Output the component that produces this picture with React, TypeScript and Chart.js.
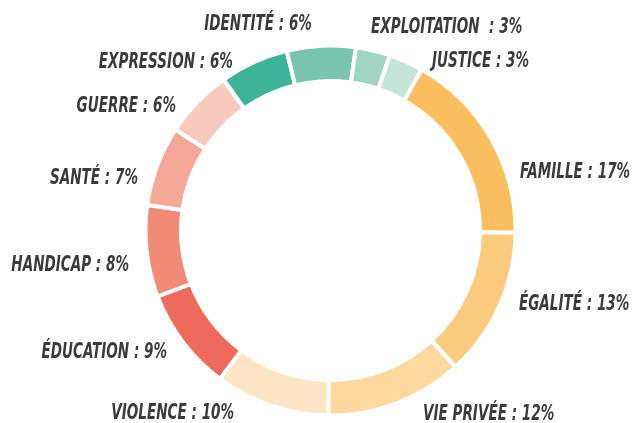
import React, { useEffect, useRef } from "react";
import { Chart, registerables } from "chart.js";

Chart.register(...registerables);

const categories = [
  "FAMILLE",
  "ÉGALITÉ",
  "VIE PRIVÉE",
  "VIOLENCE",
  "ÉDUCATION",
  "HANDICAP",
  "SANTÉ",
  "GUERRE",
  "EXPRESSION",
  "IDENTITÉ",
  "EXPLOITATION ",
  "JUSTICE",
];
const values = [17, 13, 12, 10, 9, 8, 7, 6, 6, 6, 3, 3];
const colors = [
  "#FBBE5E",
  "#FCCB7E",
  "#FDD9A0",
  "#FDE5C5",
  "#EE6A5A",
  "#F18B77",
  "#F4A897",
  "#F8C9BD",
  "#3DB497",
  "#7AC5AE",
  "#A1D5C3",
  "#C6E5DA",
];
// label placement: angular nudge from the slice mid-angle (deg) and gap beyond the ring (px)
const labelNudgeDeg = [12.2, -3.3, -6.1, 9.4, 0.9, -2.7, -4.7, -4.6, -5.3, -2.2, -2.15, 6.5];
const labelGap = [13.9, 16.6, 18.7, 19.7, 17.5, 19.1, 15.1, 14.7, 11.4, 24.3, 24.5, 14.3];

const FONT_SIZE = 22;
const X_SCALE = 0.685;

const labelPlugin = {
  id: "outerLabels",
  afterDatasetsDraw(chart: any) {
    const ctx = chart.ctx;
    const meta = chart.getDatasetMeta(0);
    ctx.save();
    ctx.font = `italic bold ${FONT_SIZE}px 'DejaVu Sans Condensed', 'DejaVu Sans', sans-serif`;
    ctx.fillStyle = "#3B3B3B";
    ctx.textBaseline = "alphabetic";
    meta.data.forEach((arc: any, i: number) => {
      const p = arc.getProps(["x", "y", "startAngle", "endAngle", "outerRadius"], true);
      const a = (p.startAngle + p.endAngle) / 2 + (labelNudgeDeg[i] * Math.PI) / 180;
      const d = p.outerRadius + labelGap[i];
      const px = p.x + d * Math.cos(a);
      const py = p.y + d * Math.sin(a);
      const text = `${categories[i]} : ${values[i]}%`;
      ctx.save();
      ctx.translate(px, py + FONT_SIZE * 0.729 / 2);
      ctx.scale(X_SCALE, 1);
      ctx.textAlign = Math.cos(a) >= 0 ? "left" : "right";
      ctx.fillText(text, 0, 0);
      ctx.restore();
    });
    ctx.restore();
  },
};

export default function App() {
  const ref = useRef<HTMLCanvasElement>(null);
  useEffect(() => {
    if (!ref.current) return;
    const chart = new Chart(ref.current, {
      type: "doughnut",
      data: {
        labels: categories,
        datasets: [
          {
            data: values,
            backgroundColor: colors,
            borderColor: "#FFFFFF",
            borderWidth: 4,
            hoverOffset: 0,
          },
        ],
      },
      options: {
        responsive: false,
        maintainAspectRatio: false,
        animation: false,
        rotation: 29.5,
        radius: 185,
        cutout: "80.8%",
        layout: { padding: { left: 23, top: 38, right: 0, bottom: 0 } },
        plugins: {
          legend: { display: false },
          tooltip: { enabled: false },
        },
      },
      plugins: [labelPlugin],
    });
    return () => chart.destroy();
  }, []);
  return (
    <div style={{ position: "fixed", left: 0, top: 0, width: 638, height: 423, background: "#fff" }}>
      <canvas ref={ref} width={638} height={423} />
    </div>
  );
}
